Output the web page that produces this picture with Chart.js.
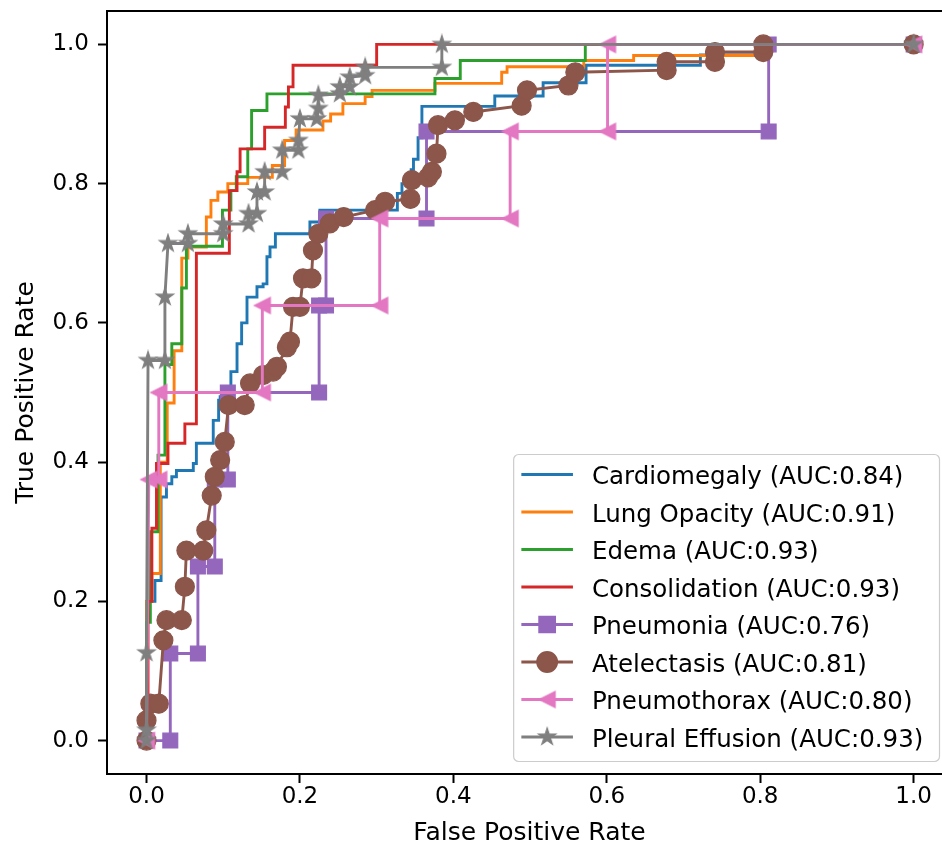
<!DOCTYPE html>
<html>
<head>
<meta charset="utf-8">
<title>ROC curves</title>
<script src="https://cdn.jsdelivr.net/npm/chart.js@4.4.0/dist/chart.umd.min.js"></script>
<style>
  html, body { margin: 0; padding: 0; background: #fff; overflow: hidden; }
  #wrap { width: 942px; height: 847px; overflow: hidden; }
</style>
</head>
<body>
<div id="wrap"><canvas id="roc" width="960" height="847"></canvas></div>
<script>
// ROC data (false positive rate / true positive rate)
const cardiomegalyFpr = [0, 0.001, 0.011, 0.019, 0.026, 0.033, 0.039, 0.061, 0.065, 0.087, 0.094, 0.096, 0.11, 0.118, 0.124, 0.131, 0.144, 0.152, 0.157, 0.161, 0.168, 0.213, 0.226, 0.327, 0.333, 0.345, 0.348, 0.354, 0.359, 0.454, 0.517, 0.573, 0.722, 0.808, 1.0];
const cardiomegalyTpr = [0, 0.20, 0.23, 0.35, 0.369, 0.379, 0.388, 0.398, 0.427, 0.46, 0.489, 0.494, 0.53, 0.57, 0.60, 0.637, 0.652, 0.656, 0.695, 0.709, 0.728, 0.745, 0.762, 0.786, 0.80, 0.82, 0.835, 0.866, 0.911, 0.926, 0.945, 0.97, 0.985, 1.0, 1.0];

const lungOpacityFpr = [0, 0.0, 0.007, 0.018, 0.027, 0.036, 0.046, 0.054, 0.078, 0.084, 0.093, 0.106, 0.132, 0.164, 0.18, 0.195, 0.23, 0.24, 0.256, 0.285, 0.294, 0.376, 0.463, 0.47, 0.57, 0.635, 0.808, 1.0];
const lungOpacityTpr = [0, 0.2, 0.24, 0.40, 0.485, 0.56, 0.693, 0.709, 0.752, 0.776, 0.788, 0.80, 0.809, 0.826, 0.862, 0.877, 0.89, 0.9, 0.915, 0.925, 0.934, 0.944, 0.96, 0.968, 0.977, 0.984, 1.0, 1.0];

const edemaFpr = [0, 0.0, 0.005, 0.015, 0.024, 0.033, 0.046, 0.052, 0.099, 0.11, 0.117, 0.132, 0.137, 0.157, 0.376, 0.409, 0.572, 1.0];
const edemaTpr = [0, 0.17, 0.30, 0.41, 0.54, 0.57, 0.65, 0.71, 0.762, 0.79, 0.81, 0.85, 0.905, 0.929, 0.951, 0.977, 1.0, 1.0];

const consolidationFpr = [0, 0.002, 0.007, 0.013, 0.028, 0.050, 0.065, 0.108, 0.118, 0.122, 0.154, 0.181, 0.185, 0.191, 0.300, 1.0];
const consolidationTpr = [0, 0.2, 0.305, 0.398, 0.427, 0.455, 0.70, 0.79, 0.817, 0.85, 0.881, 0.91, 0.939, 0.97, 1.0, 1.0];

const pneumoniaFpr = [0, 0.031, 0.031, 0.067, 0.067, 0.089, 0.089, 0.106, 0.106, 0.225, 0.225, 0.234, 0.234, 0.365, 0.365, 0.811, 0.811, 1.0];
const pneumoniaTpr = [0, 0, 0.125, 0.125, 0.25, 0.25, 0.375, 0.375, 0.5, 0.5, 0.625, 0.625, 0.75, 0.75, 0.875, 0.875, 1.0, 1.0];

const atelectasisFpr = [0, 0, 0.005, 0.016, 0.022, 0.026, 0.046, 0.05, 0.052, 0.074, 0.078, 0.085, 0.089, 0.096, 0.102, 0.107, 0.128, 0.135, 0.152, 0.165, 0.17, 0.183, 0.187, 0.191, 0.2, 0.204, 0.215, 0.217, 0.224, 0.239, 0.257, 0.298, 0.311, 0.344, 0.346, 0.367, 0.372, 0.378, 0.38, 0.402, 0.426, 0.489, 0.496, 0.55, 0.559, 0.678, 0.678, 0.741, 0.741, 0.804, 0.804, 1.0];
const atelectasisTpr = [0, 0.029, 0.053, 0.053, 0.144, 0.173, 0.173, 0.221, 0.273, 0.273, 0.302, 0.352, 0.379, 0.403, 0.429, 0.482, 0.482, 0.513, 0.525, 0.53, 0.537, 0.565, 0.573, 0.623, 0.623, 0.664, 0.664, 0.704, 0.728, 0.743, 0.752, 0.762, 0.774, 0.778, 0.805, 0.809, 0.817, 0.843, 0.884, 0.891, 0.903, 0.912, 0.934, 0.941, 0.96, 0.963, 0.975, 0.975, 0.989, 0.989, 1.0, 1.0];

const pneumothoraxFpr = [0, 0.003, 0.016, 0.016, 0.151, 0.151, 0.304, 0.304, 0.474, 0.474, 0.601, 0.601, 1.0];
const pneumothoraxTpr = [0, 0.375, 0.375, 0.5, 0.5, 0.625, 0.625, 0.75, 0.75, 0.875, 0.875, 1.0, 1.0];

const effusionFpr = [0, 0, 0, 0.002, 0.024, 0.024, 0.028, 0.054, 0.054, 0.1, 0.1, 0.133, 0.133, 0.144, 0.144, 0.154, 0.154, 0.177, 0.177, 0.198, 0.198, 0.2, 0.222, 0.224, 0.224, 0.252, 0.252, 0.265, 0.265, 0.285, 0.285, 0.385, 0.385, 1.0];
const effusionTpr = [0, 0.015, 0.126, 0.546, 0.546, 0.637, 0.714, 0.714, 0.728, 0.728, 0.742, 0.742, 0.757, 0.757, 0.788, 0.788, 0.817, 0.817, 0.848, 0.848, 0.862, 0.893, 0.893, 0.908, 0.927, 0.929, 0.939, 0.939, 0.953, 0.955, 0.967, 0.967, 1.0, 1.0];

const labels = ["Cardiomegaly", "Lung Opacity", "Edema", "Consolidation", "Pneumonia", "Atelectasis", "Pneumothorax", "Pleural Effusion"];
const aucValues = ["0.84", "0.91", "0.93", "0.93", "0.76", "0.81", "0.80", "0.93"];
const colors = ["#1f77b4", "#ff7f0e", "#2ca02c", "#d62728", "#9467bd", "#8c564b", "#e377c2", "#7f7f7f"];
const xTicks = [0, 0.2, 0.4, 0.6, 0.8, 1.0];
const yTicks = [0, 0.2, 0.4, 0.6, 0.8, 1.0];

const FONT = "'DejaVu Sans', 'Liberation Sans', sans-serif";

function toPoints(fpr, tpr) {
    return fpr.map((x, i) => ({ x: x, y: tpr[i] }));
}

// filled 5 point star, like matplotlib's '*'
function makeStar(color, r) {
    const c = document.createElement("canvas");
    const s = Math.ceil(r * 2 + 4);
    c.width = s; c.height = s;
    const g = c.getContext("2d");
    g.beginPath();
    for (let k = 0; k < 10; k++) {
        const rad = k % 2 === 0 ? r : r * 0.382;
        const a = -Math.PI / 2 + k * Math.PI / 5;
        const px = s / 2 + rad * Math.cos(a), py = s / 2 + rad * Math.sin(a);
        if (k === 0) g.moveTo(px, py); else g.lineTo(px, py);
    }
    g.closePath();
    g.fillStyle = color; g.fill();
    g.lineWidth = 1.2; g.strokeStyle = color; g.stroke();
    return c;
}

// left pointing triangle, like matplotlib's '<'
function makeTriLeft(color, size) {
    const c = document.createElement("canvas");
    const s = Math.ceil(size + 4);
    c.width = s; c.height = s;
    const g = c.getContext("2d");
    const h = size / 2, m = s / 2;
    g.beginPath();
    g.moveTo(m - h, m);
    g.lineTo(m + h, m - h);
    g.lineTo(m + h, m + h);
    g.closePath();
    g.fillStyle = color; g.fill();
    g.lineWidth = 1.2; g.strokeStyle = color; g.stroke();
    return c;
}

const starMarker = makeStar(colors[7], 9);
const triMarker = makeTriLeft(colors[6], 16);

const seriesData = [
    toPoints(cardiomegalyFpr, cardiomegalyTpr),
    toPoints(lungOpacityFpr, lungOpacityTpr),
    toPoints(edemaFpr, edemaTpr),
    toPoints(consolidationFpr, consolidationTpr),
    toPoints(pneumoniaFpr, pneumoniaTpr),
    toPoints(atelectasisFpr, atelectasisTpr),
    toPoints(pneumothoraxFpr, pneumothoraxTpr),
    toPoints(effusionFpr, effusionTpr)
];

// marker per series (null = plain step line)
const markerStyles = [null, null, null, null, "rect", "circle", triMarker, starMarker];
const markerRadius = [0, 0, 0, 0, 10.5, 9.5, 8, 8];

const datasets = seriesData.map((pts, i) => {
    const marker = markerStyles[i];
    return {
        label: labels[i] + " (AUC:" + aucValues[i] + ")",
        data: pts,
        showLine: true,
        borderColor: colors[i],
        backgroundColor: colors[i],
        borderWidth: 2.9,
        stepped: marker ? false : true,
        tension: 0,
        fill: false,
        pointStyle: marker || "circle",
        pointRadius: markerRadius[i],
        pointBackgroundColor: colors[i],
        pointBorderColor: colors[i],
        pointBorderWidth: 1.2,
        order: 8 - i
    };
});

// spines all round the axes
const frame = {
    id: "frame",
    afterDatasetsDraw(chart) {
        const a = chart.chartArea, ctx = chart.ctx;
        ctx.save();
        ctx.strokeStyle = "#000";
        ctx.lineWidth = 2;
        ctx.strokeRect(a.left, a.top, a.right - a.left, a.bottom - a.top);
        ctx.restore();
    }
};

// matplotlib style legend, lower right inside the axes
const legendBox = {
    id: "legendBox",
    afterDraw(chart) {
        const ctx = chart.ctx, a = chart.chartArea;
        const fontSize = 24.5;
        const rowH = 37.5;
        ctx.save();
        ctx.font = fontSize + "px " + FONT;
        let maxW = 0;
        datasets.forEach(d => { maxW = Math.max(maxW, ctx.measureText(d.label).width); });
        const right = a.right - 12.5;
        const bottom = a.bottom - 12.5;
        const width = maxW + 94.5;
        const left = right - width;
        const height = 307;
        const top = bottom - height;

        ctx.beginPath();
        ctx.roundRect(left, top, width, height, 5);
        ctx.fillStyle = "rgba(255,255,255,0.8)";
        ctx.fill();
        ctx.lineWidth = 1.2;
        ctx.strokeStyle = "#cccccc";
        ctx.stroke();

        datasets.forEach((d, i) => {
            const cy = top + 20 + i * rowH;
            const x0 = left + 7.7, x1 = x0 + 51.6;
            ctx.beginPath();
            ctx.moveTo(x0, cy);
            ctx.lineTo(x1, cy);
            ctx.strokeStyle = colors[i];
            ctx.lineWidth = 2.9;
            ctx.stroke();
            const marker = markerStyles[i];
            if (marker) {
                const cx = (x0 + x1) / 2;
                if (typeof marker === "string") {
                    Chart.helpers.drawPoint(ctx, {
                        pointStyle: marker, radius: markerRadius[i], borderWidth: 1.2, rotation: 0
                    }, cx, cy);
                    ctx.fillStyle = colors[i];
                    ctx.strokeStyle = colors[i];
                    ctx.lineWidth = 1.2;
                    ctx.fill();
                    ctx.stroke();
                } else {
                    ctx.drawImage(marker, cx - marker.width / 2, cy - marker.height / 2);
                }
            }
            ctx.fillStyle = "#000";
            ctx.textBaseline = "alphabetic";
            ctx.textAlign = "left";
            ctx.font = fontSize + "px " + FONT;
            ctx.fillText(d.label, x1 + 19, cy + 9.5);
        });
        ctx.restore();
    }
};

new Chart(document.getElementById("roc"), {
    type: "scatter",
    data: { datasets: datasets },
    options: {
        responsive: false,
        animation: false,
        devicePixelRatio: 1,
        layout: { autoPadding: false, padding: { top: 11, right: 8, left: 0, bottom: 0 } },
        plugins: {
            legend: { display: false },
            tooltip: { enabled: false }
        },
        scales: {
            x: {
                type: "linear",
                min: -0.0515,
                max: 1.05,
                afterBuildTicks: s => { s.ticks = xTicks.map(v => ({ value: v })); },
                afterFit: s => { s.height = 73; s.paddingLeft = 0; s.paddingRight = 0; },
                ticks: {
                    callback: v => v.toFixed(1),
                    font: { family: FONT, size: 23 },
                    color: "#000",
                    padding: 0,
                    maxRotation: 0,
                    autoSkip: false
                },
                grid: { drawOnChartArea: false, drawTicks: true, tickLength: 9, tickWidth: 2, tickColor: "#000" },
                border: { display: false },
                title: {
                    display: true,
                    text: "False Positive Rate",
                    color: "#000",
                    font: { family: FONT, size: 25, lineHeight: 1.1 },
                    padding: { top: 0, bottom: 0 }
                }
            },
            y: {
                type: "linear",
                min: -0.048,
                max: 1.048,
                afterBuildTicks: s => { s.ticks = yTicks.map(v => ({ value: v })); },
                afterFit: s => { s.width = 107; s.paddingTop = 0; s.paddingBottom = 0; },
                ticks: {
                    callback: v => v.toFixed(1),
                    font: { family: FONT, size: 23 },
                    color: "#000",
                    padding: 9,
                    autoSkip: false
                },
                grid: { drawOnChartArea: false, drawTicks: true, tickLength: 9, tickWidth: 2, tickColor: "#000" },
                border: { display: false },
                title: {
                    display: true,
                    text: "True Positive Rate",
                    color: "#000",
                    font: { family: FONT, size: 25 },
                    padding: { top: 11, bottom: 0 }
                }
            }
        }
    },
    plugins: [frame, legendBox]
});
</script>
</body>
</html>
